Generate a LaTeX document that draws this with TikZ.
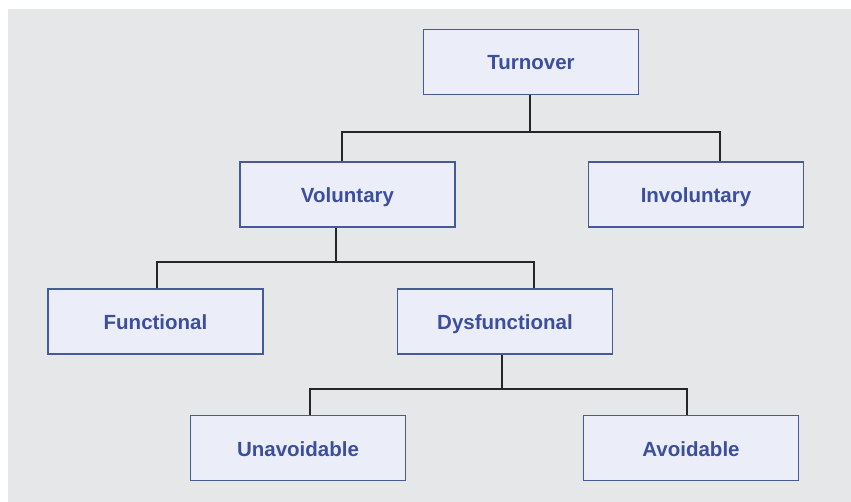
\documentclass[tikz,border=0pt]{standalone}
\usepackage{fontspec}
\setsansfont{Liberation Sans}
\usetikzlibrary{positioning, calc}
\definecolor{cpanel}{HTML}{E6E7E9}
\definecolor{cfill}{HTML}{EBEEF8}
\definecolor{cedge}{HTML}{465A96}
\definecolor{ctext}{HTML}{3C4E9E}
\tikzset{
  every picture/.style={font=\sffamily},
  box/.style={draw=cedge, fill=cfill, line width=1.8pt, minimum width=215pt, minimum height=65pt,
    inner sep=0pt, text height=19pt, text depth=3pt, text=ctext,
    font=\sffamily\bfseries\fontsize{20.5}{24}\selectfont},
  link/.style={draw=black!85, line width=1.9pt},
}
\begin{document}
\begin{tikzpicture}[x=1pt, y=-1pt]
  \useasboundingbox (0,0) rectangle (851,502);
  \fill[white] (0,0) rectangle (851,502);
  \fill[cpanel] (8,9) rectangle (851,502);
  % ---- boxes
  \node[box] (turn) at (531,62) {Turnover};
  \node[box] (vol) at (347.5,194.5) {Voluntary};
  \node[box] (invol) at (696,194.5) {Involuntary};
  \node[box] (func) at (155.5,321.5) {Functional};
  \node[box] (dysf) at (505,321.5) {Dysfunctional};
  \node[box] (unav) at (298,448) {Unavoidable};
  \node[box] (avoid) at (691,448) {Avoidable};
  % ---- connectors
  \draw[link] ([xshift=-1pt]turn.south) -- ++(0,37) coordinate (bus1);
  \draw[link] ([xshift=-5.5pt]vol.north) |- (bus1) -| ([xshift=24pt]invol.north);
  \draw[link] ([xshift=-11.5pt]vol.south) -- ++(0,34) coordinate (bus2);
  \draw[link] ([xshift=1.5pt]func.north) |- (bus2) -| ([xshift=29pt]dysf.north);
  \draw[link] ([xshift=-3pt]dysf.south) -- ++(0,34) coordinate (bus3);
  \draw[link] ([xshift=12pt]unav.north) |- (bus3) -| ([xshift=-4pt]avoid.north);
\end{tikzpicture}
\end{document}
